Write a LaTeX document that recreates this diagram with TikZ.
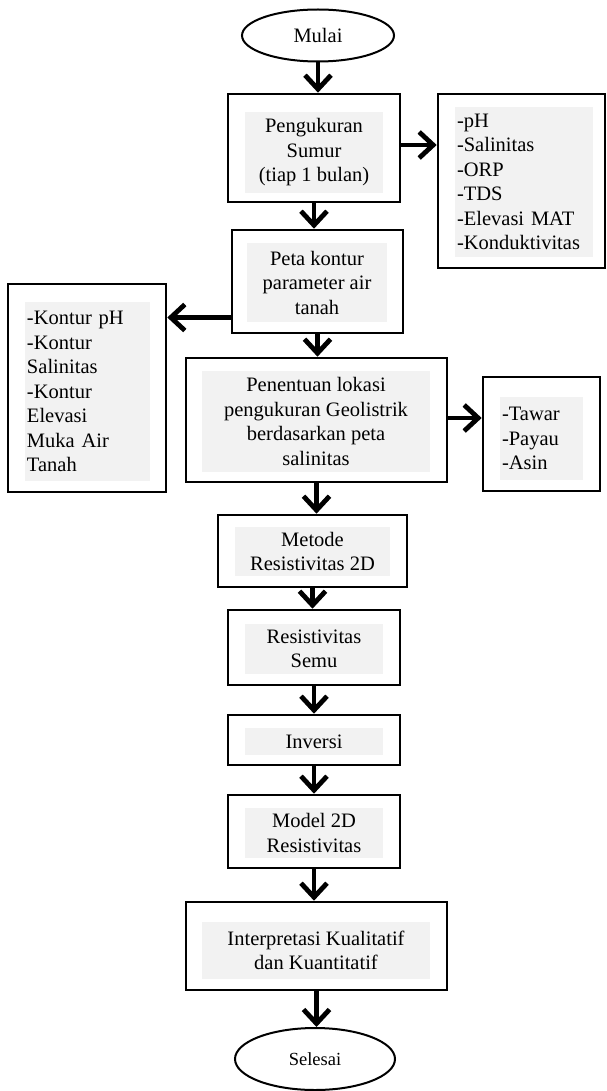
\documentclass[tikz,border=0pt]{standalone}
\usepackage{fontspec}
\setmainfont{Liberation Serif}
\usetikzlibrary{arrows.meta,shapes.geometric}
\definecolor{lg}{HTML}{F2F2F2}
\begin{document}
\begin{tikzpicture}[x=1pt,y=-1pt,
  font=\fontsize{20.5}{24.5}\selectfont,
  box/.style={draw,line width=2.6pt,inner sep=0pt},
  gr/.style={fill=lg,inner sep=0pt,align=center},
  grl/.style={fill=lg,inner xsep=2pt,inner ysep=0pt,align=left},
  oval/.style={ellipse,draw,line width=2pt,inner sep=0pt},
  arr/.style={line width=4.8pt,-{Straight Barb[length=14pt,width=26pt]}}]
\useasboundingbox (0,0) rectangle (606,1091);
% main column
\node[oval,minimum width=152pt,minimum height=52pt] (start) at (318,35.5) {Mulai};
\node[box,minimum width=172pt,minimum height=108pt] (p1) at (314,148) {};
\node[gr,minimum width=138pt,minimum height=81pt] (p1t) at (314,152.5) {Pengukuran\\Sumur\\(tiap 1 bulan)};
\node[box,minimum width=171pt,minimum height=103pt] (p2) at (317.5,281.5) {};
\node[gr,minimum width=140pt,minimum height=79pt] (p2t) at (317,282.5) {Peta kontur\\parameter air\\tanah};
\node[box,minimum width=261pt,minimum height=124pt] (p3) at (316.5,420) {};
\node[gr,minimum width=228pt,minimum height=101pt] (p3t) at (316,421.5) {Penentuan lokasi\\pengukuran Geolistrik\\berdasarkan peta\\salinitas};
\node[box,minimum width=189pt,minimum height=72pt] (p4) at (312.5,551) {};
\node[gr,minimum width=155pt,minimum height=49pt] (p4t) at (312.5,551.5) {Metode\\Resistivitas 2D};
\node[box,minimum width=172pt,minimum height=75pt] (p5) at (314,647.5) {};
\node[gr,minimum width=138pt,minimum height=50pt] (p5t) at (314,649) {Resistivitas\\Semu};
\node[box,minimum width=172pt,minimum height=50pt] (p6) at (314,740) {};
\node[gr,minimum width=138pt,minimum height=27pt] (p6t) at (314,741.5) {Inversi};
\node[box,minimum width=172pt,minimum height=73pt] (p7) at (314,831.5) {};
\node[gr,minimum width=138pt,minimum height=50pt] (p7t) at (314,833) {Model 2D\\Resistivitas};
\node[box,minimum width=261pt,minimum height=88pt] (p8) at (316.5,946) {};
\node[gr,minimum width=228pt,minimum height=57pt] (p8t) at (316,950.5) {Interpretasi Kualitatif\\dan Kuantitatif};
\node[oval,minimum width=160pt,minimum height=62pt,font=\fontsize{18.5}{22}\selectfont] (end) at (315,1059) {Selesai};
% side boxes
\node[box,minimum width=167pt,minimum height=174pt] (s1) at (521.5,181) {};
\node[grl,text width=134pt,minimum height=150pt] (s1t) at (524,182) {-pH\\-Salinitas\\-ORP\\-TDS\\-Elevasi MAT\\-Konduktivitas};
\node[box,minimum width=158pt,minimum height=208pt] (s2) at (87,388) {};
\node[grl,text width=121pt,minimum height=179pt] (s2t) at (87.5,391.5) {-Kontur pH\\-Kontur\\Salinitas\\-Kontur\\Elevasi\\Muka Air\\Tanah};
\node[box,minimum width=117pt,minimum height=114pt] (s3) at (541.5,434) {};
\node[grl,text width=79pt,minimum height=83pt] (s3t) at (541.5,438.5) {-Tawar\\-Payau\\-Asin};
% connectors
\draw[arr] (start.south) -- (start.south |- p1.north);
\draw[arr] (p1.south) -- (p1.south |- p2.north);
\draw[arr] (p2.south) -- (p2.south |- p3.north);
\draw[arr] (p3.south) -- (p3.south |- p4.north);
\draw[arr] (p4.south) -- (p4.south |- p5.north);
\draw[arr] (p5.south) -- (p5.south |- p6.north);
\draw[arr] (p6.south) -- (p6.south |- p7.north);
\draw[arr] (p7.south) -- (p7.south |- p8.north);
\draw[arr] (p8.south) -- (p8.south |- end.north);
\draw[arr] ([yshift=3pt]p1.east) -- ([yshift=3pt]p1.east -| s1.west);
\draw[arr] ([yshift=-36pt]p2.west) -- ([yshift=-36pt]p2.west -| s2.east);
\draw[arr] ([yshift=2pt]p3.east) -- ([yshift=2pt]p3.east -| s3.west);
\end{tikzpicture}
\end{document}
